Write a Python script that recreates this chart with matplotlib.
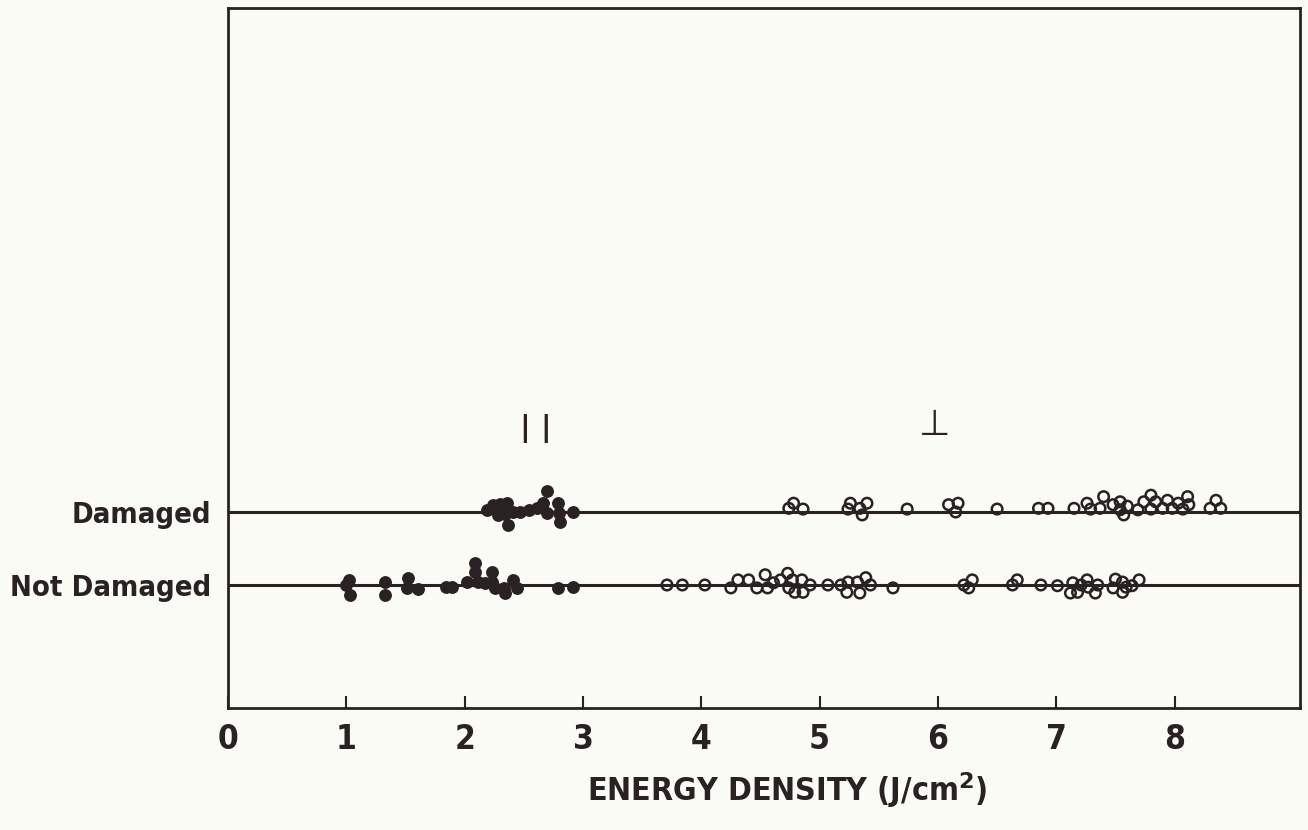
import matplotlib.pyplot as plt

# parallel polarization (filled), damaged
par_dmg_x = [2.19, 2.24, 2.30, 2.36, 2.28, 2.34, 2.37, 2.41, 2.47, 2.54, 2.61, 2.66,
             2.70, 2.70, 2.79, 2.80, 2.81, 2.92]
par_dmg_dy = [0.03, 0.10, 0.11, 0.12, -0.04, -0.03, -0.18, 0.0, 0.0, 0.03, 0.05, 0.12,
              0.29, -0.01, 0.12, -0.01, -0.14, 0.0]

# parallel polarization (filled), not damaged
par_nd_x = [1.00, 1.02, 1.03, 1.33, 1.33, 1.52, 1.51, 1.61, 1.84, 1.89, 2.02, 2.09,
            2.09, 2.11, 2.17, 2.23, 2.23, 2.26, 2.33, 2.34, 2.41, 2.44, 2.79, 2.92]
par_nd_dy = [0.0, 0.07, -0.14, 0.04, -0.14, 0.10, -0.04, -0.05, -0.03, -0.03, 0.04, 0.30,
             0.18, 0.04, 0.03, 0.18, 0.04, -0.04, -0.04, -0.11, 0.07, -0.04, -0.04, -0.03]

# perpendicular polarization (open), damaged
perp_dmg_x = [4.74, 4.78, 4.86, 5.26, 5.24, 5.34, 5.36, 5.40, 5.74, 6.09, 6.17, 6.15,
              6.50, 6.85, 6.93, 7.15, 7.26, 7.29, 7.40, 7.37, 7.48, 7.54, 7.54, 7.57,
              7.60, 7.69, 7.74, 7.80, 7.80, 7.84, 7.90, 7.94, 7.98, 8.03, 8.11, 8.12,
              8.07, 8.30, 8.35, 8.39]
perp_dmg_dy = [0.05, 0.12, 0.04, 0.12, 0.04, 0.05, -0.04, 0.12, 0.04, 0.10, 0.12, 0.0,
               0.04, 0.05, 0.05, 0.05, 0.12, 0.04, 0.21, 0.05, 0.10, 0.14, 0.03, -0.04,
               0.08, 0.03, 0.14, 0.23, 0.04, 0.14, 0.05, 0.16, 0.05, 0.12, 0.21, 0.10,
               0.04, 0.05, 0.16, 0.05]

# perpendicular polarization (open), not damaged
perp_nd_x = [3.71, 3.84, 4.03, 4.25, 4.31, 4.40, 4.47, 4.54, 4.56, 4.61, 4.67, 4.73,
             4.77, 4.74, 4.79, 4.86, 4.85, 4.92, 5.07, 5.18, 5.24, 5.23, 5.32, 5.34,
             5.39, 5.43, 5.62, 6.22, 6.29, 6.26, 6.63, 6.67, 6.87, 7.01, 7.14, 7.12,
             7.18, 7.21, 7.26, 7.27, 7.33, 7.35, 7.50, 7.48, 7.56, 7.56, 7.59, 7.64, 7.70]
perp_nd_dy = [0.0, 0.0, 0.0, -0.04, 0.07, 0.07, -0.04, 0.14, -0.04, 0.03, 0.07, 0.16,
              0.07, -0.04, -0.10, -0.10, 0.07, 0.0, 0.0, 0.0, 0.04, -0.10, 0.04, -0.11,
              0.10, 0.0, -0.04, 0.0, 0.07, -0.04, 0.0, 0.07, 0.0, -0.01, 0.03, -0.11,
              -0.10, 0.0, 0.07, -0.03, -0.11, 0.0, 0.08, -0.04, 0.04, -0.10, -0.03, -0.01, 0.07]

rows = ["Not Damaged", "Damaged"]
row_y = {"Not Damaged": 1, "Damaged": 2}

ink = "#2a2122"
bg = "#fbfbf6"
lab = dict(family="DejaVu Sans", fontstretch="condensed", fontweight="bold", color=ink)

fig = plt.figure(figsize=(13.08, 8.30), dpi=100, facecolor=bg)
ax = fig.add_axes([0.1743, 0.147, 0.8196, 0.843], facecolor=bg)

for name in rows:
    ax.axhline(row_y[name], color=ink, lw=2.2, zorder=1)

def y_of(level, dys):
    return [row_y[level] + d for d in dys]

ax.scatter(par_dmg_x, y_of("Damaged", par_dmg_dy), s=68, color=ink, zorder=3)
ax.scatter(par_nd_x, y_of("Not Damaged", par_nd_dy), s=68, color=ink, zorder=3)
ax.scatter(perp_dmg_x, y_of("Damaged", perp_dmg_dy), s=58, facecolors="none",
           edgecolors=ink, linewidths=1.8, zorder=3)
ax.scatter(perp_nd_x, y_of("Not Damaged", perp_nd_dy), s=58, facecolors="none",
           edgecolors=ink, linewidths=1.8, zorder=3)

ax.text(2.60, 3.14, "| |", ha="center", va="center", fontsize=21, color=ink,
        family="DejaVu Sans", fontweight="bold")
ax.text(5.97, 3.19, "\u22a5", ha="center", va="center", fontsize=26, color=ink,
        family="DejaVu Sans")

ax.set_xlim(0, 9.06)
ax.set_ylim(-0.685, 8.9)
ax.set_xticks(range(9))
ax.set_xticklabels([str(i) for i in range(9)], fontsize=24, **lab)
ax.tick_params(axis="x", direction="in", length=9, width=1.5, color=ink, pad=11)

ax.set_yticks([row_y[r] for r in rows])
ax.set_yticklabels(rows, fontsize=21, **lab)
ax.tick_params(axis="y", length=0, pad=12)

for sp in ax.spines.values():
    sp.set_color(ink)
    sp.set_linewidth(2)

fig.text(0.602, 0.035, "ENERGY DENSITY (J/cm$^\\mathbf{2}$)", ha="center", va="baseline",
         fontsize=23, **lab)

fig.savefig("out.png", dpi=100, facecolor=bg)
